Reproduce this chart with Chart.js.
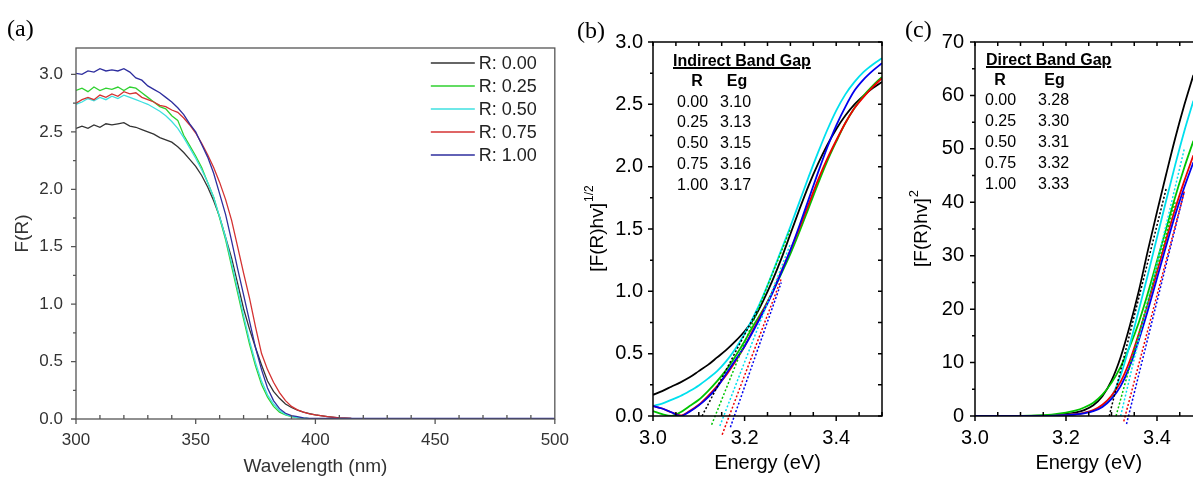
<!DOCTYPE html>
<html><head><meta charset="utf-8"><title>Kubelka-Munk and band gap plots</title>
<script src="https://cdn.jsdelivr.net/npm/chart.js@4.4.1/dist/chart.umd.min.js"></script>
<style>
html,body{margin:0;padding:0;background:#fff;overflow:hidden;width:1193px;height:478px;position:relative;}
canvas{position:absolute;top:0;}
.tag{position:absolute;font-family:"Liberation Serif","Times New Roman",serif;font-size:24px;line-height:26px;color:#000;}
.ins{position:absolute;font-family:"Liberation Sans",Arial,sans-serif;font-size:16px;line-height:18px;color:#000;white-space:nowrap;}
.ins.b{font-weight:bold;}
.ins.u{text-decoration:underline;text-decoration-thickness:1.5px;}
.ins.c{transform:translateX(-50%);}
</style></head>
<body>
<canvas id="chartA" width="580" height="478" style="left:0px"></canvas>
<canvas id="chartB" width="315" height="478" style="left:580px"></canvas>
<canvas id="chartC" width="320" height="478" style="left:895px"></canvas>
<div class="tag" style="left:7px;top:15px">(a)</div>
<div class="tag" style="left:577px;top:17px">(b)</div>
<div class="tag" style="left:905px;top:16px">(c)</div>
<script>
// ---------------- data ----------------
const R_LABELS = ['0.00', '0.25', '0.50', '0.75', '1.00'];
const INDIRECT_EG = ['3.10', '3.13', '3.15', '3.16', '3.17'];
const DIRECT_EG = ['3.28', '3.30', '3.31', '3.32', '3.33'];

// (a) F(R) vs wavelength (nm)
const WAVELENGTH = [300,302.5,305,307.5,310,312.5,315,317.5,320,322.5,325,327.5,330,332.5,335,337.5,340,342.5,345,347.5,
  350,352.5,355,357.5,360,362.5,365,367.5,370,372.5,375,377.5,380,382.5,385,387.5,390,392.5,395,397.5,400,
  405,410,415,420,425,430,435,440,445,450,455,460,465,470,475,480,485,490,495,500];
const FR_R000 = [2.53,2.55,2.53,2.56,2.54,2.57,2.56,2.57,2.58,2.55,2.54,2.52,2.50,2.48,2.45,2.43,2.41,2.37,2.32,2.26,
  2.20,2.12,2.02,1.90,1.76,1.58,1.40,1.18,0.96,0.78,0.62,0.47,0.33,0.24,0.18,0.13,0.10,0.078,0.06,0.047,0.036,
  0.02,0.01,0.005,0.003,0.002,0.002,0.002,0.002,0.002,0.002,0.002,0.002,0.002,0.002,0.002,0.002,0.002,0.002,0.002,0.002];
const FR_R025 = [2.86,2.88,2.85,2.89,2.86,2.88,2.87,2.89,2.86,2.89,2.88,2.84,2.80,2.76,2.72,2.70,2.64,2.60,2.47,2.38,
  2.29,2.19,2.06,1.93,1.75,1.56,1.33,1.10,0.87,0.65,0.46,0.30,0.19,0.11,0.06,0.035,0.02,0.012,0.007,0.004,0.003,
  0.003,0.003,0.003,0.003,0.003,0.003,0.003,0.003,0.003,0.003,0.003,0.003,0.003,0.003,0.003,0.003,0.003,0.003,0.003,0.003];
const FR_R050 = [2.74,2.76,2.79,2.77,2.80,2.78,2.81,2.79,2.82,2.80,2.78,2.76,2.74,2.71,2.68,2.64,2.59,2.53,2.45,2.36,
  2.27,2.17,2.06,1.93,1.76,1.58,1.36,1.13,0.90,0.68,0.49,0.33,0.21,0.13,0.075,0.04,0.022,0.012,0.007,0.004,0.003,
  0.003,0.003,0.003,0.003,0.003,0.003,0.003,0.003,0.003,0.003,0.003,0.003,0.003,0.003,0.003,0.003,0.003,0.003,0.003,0.003];
const FR_R075 = [2.75,2.78,2.80,2.78,2.82,2.80,2.83,2.81,2.85,2.83,2.84,2.80,2.78,2.76,2.73,2.72,2.69,2.67,2.62,2.56,
  2.49,2.40,2.30,2.19,2.06,1.91,1.73,1.50,1.27,1.05,0.80,0.57,0.43,0.32,0.23,0.16,0.11,0.08,0.06,0.045,0.035,
  0.02,0.01,0.005,0.003,0.002,0.002,0.002,0.002,0.002,0.002,0.002,0.002,0.002,0.002,0.002,0.002,0.002,0.002,0.002,0.002];
const FR_R100 = [3.01,3.00,3.03,3.02,3.05,3.03,3.04,3.03,3.05,3.02,2.97,2.95,2.90,2.87,2.84,2.80,2.76,2.71,2.65,2.57,
  2.50,2.39,2.28,2.14,1.96,1.78,1.55,1.31,1.08,0.85,0.62,0.43,0.27,0.16,0.09,0.05,0.03,0.02,0.01,0.006,0.005,
  0.005,0.005,0.005,0.005,0.005,0.005,0.005,0.005,0.005,0.005,0.005,0.005,0.005,0.005,0.005,0.005,0.005,0.005,0.005,0.005];

// (b) [F(R)hv]^1/2 vs energy (eV)
const ENERGY_B = [3.00,3.02,3.04,3.06,3.08,3.10,3.12,3.14,3.16,3.18,3.20,3.22,3.24,3.26,3.28,3.30,3.32,3.34,3.36,3.38,3.40,3.42,3.44,3.46,3.48,3.50];
const IND_R000 = [0.17,0.20,0.235,0.27,0.31,0.36,0.41,0.47,0.53,0.60,0.68,0.78,0.92,1.08,1.26,1.46,1.66,1.85,2.02,2.17,2.30,2.41,2.50,2.57,2.63,2.68];
const IND_R025 = [0.04,0.015,0.0,0.03,0.08,0.13,0.20,0.28,0.37,0.48,0.60,0.73,0.85,0.99,1.14,1.30,1.48,1.67,1.86,2.04,2.20,2.35,2.47,2.57,2.65,2.72];
const IND_R050 = [0.08,0.10,0.13,0.16,0.20,0.245,0.30,0.36,0.44,0.54,0.66,0.80,0.96,1.14,1.33,1.52,1.72,1.92,2.11,2.29,2.45,2.58,2.68,2.76,2.82,2.87];
const IND_R075 = [0.08,0.06,0.03,0.005,0.04,0.09,0.16,0.24,0.33,0.44,0.56,0.70,0.84,0.99,1.16,1.33,1.51,1.70,1.89,2.06,2.21,2.35,2.47,2.56,2.64,2.71];
const IND_R100 = [0.08,0.06,0.03,0.0,0.035,0.085,0.15,0.23,0.34,0.45,0.56,0.69,0.83,0.98,1.15,1.33,1.53,1.74,1.95,2.15,2.33,2.48,2.61,2.70,2.77,2.83];
// linear-fit (tangent) lines, [start, end]
const IND_FIT_X = [[3.107,3.228],[3.128,3.30],[3.146,3.30],[3.151,3.28],[3.169,3.28]];
const IND_FIT_Y = [[0.0,0.85],[-0.07,1.50],[-0.08,1.38],[-0.15,1.10],[-0.09,1.07]];

// (c) [F(R)hv]^2 vs energy (eV)
const ENERGY_C = [3.00,3.02,3.04,3.06,3.08,3.10,3.12,3.14,3.16,3.18,3.20,3.22,3.24,3.26,3.28,3.30,3.32,3.34,3.36,3.38,3.40,3.42,3.44,3.46,3.48];
const DIR_R000 = [0,0,0,0,0,0.01,0.03,0.06,0.12,0.22,0.38,0.62,1.1,2.0,3.7,6.6,11.0,16.8,23.4,31.0,38.2,45.2,52.0,58.2,63.8];
const DIR_R025 = [0,0,0,0,0,0.02,0.05,0.1,0.2,0.4,0.65,1.0,1.6,2.5,4.0,6.2,9.2,13.0,17.5,23.0,29.0,35.0,41.0,46.5,51.5];
const DIR_R050 = [0,0,0,0,0,0,0,0,0.03,0.08,0.18,0.33,0.6,1.0,1.9,3.6,7.6,13.3,19.8,26.5,33.4,40.3,47.0,53.3,59.0];
const DIR_R075 = [0,0,0,0,0,0,0,0,0.03,0.08,0.18,0.33,0.6,1.1,2.1,3.8,6.4,10.3,15.4,21.0,27.0,33.0,38.8,44.0,48.8];
const DIR_R100 = [0,0,0,0,0,0,0,0,0.02,0.06,0.14,0.28,0.5,0.9,1.7,3.2,5.6,9.3,14.2,19.8,25.8,31.8,37.6,42.8,47.5];
const DIR_FIT_X = [[3.295,3.42],[3.31,3.44],[3.32,3.46],[3.327,3.46],[3.333,3.46]];
const DIR_FIT_Y = [[0,42.5],[0,40],[0,50],[-1,42],[-1.5,42]];

// ---------------- styling ----------------
const FONT = '"Liberation Sans", Arial, Helvetica, sans-serif';
Chart.defaults.font.family = FONT;
const COLORS_A = ['#333333', '#2fd12f', '#3fe0e0', '#d43232', '#2e2e9e'];
const COLORS_BC = ['#000000', '#00c400', '#00e0ee', '#ee0000', '#0000ee'];
const DRAW_ORDER = [5, 4, 3, 2, 1]; // blue on top

const pts = (xs, ys) => xs.map((x, i) => ({ x: x, y: ys[i] }));

// frame + ticks drawn through the scales
const frameTicks = {
  id: 'frameTicks',
  afterDatasetsDraw(chart, args, o) {
    const ctx = chart.ctx, a = chart.chartArea, xs = chart.scales.x, ys = chart.scales.y;
    const list = (min, max, step) => { const out = []; const k0 = Math.ceil(min / step - 1e-6), k1 = Math.floor(max / step + 1e-6); for (let k = k0; k <= k1; k++) out.push(k * step); return out; };
    const isMul = (v, s) => Math.abs(v / s - Math.round(v / s)) < 1e-6;
    ctx.save();
    ctx.strokeStyle = o.color; ctx.lineWidth = o.lineWidth;
    ctx.strokeRect(a.left, a.top, a.right - a.left, a.bottom - a.top);
    ctx.beginPath();
    list(xs.min, xs.max, o.x.minor).forEach(v => {
      const p = xs.getPixelForValue(v);
      if (isMul(v, o.x.major)) { ctx.moveTo(p, a.bottom); ctx.lineTo(p, a.bottom + o.x.majorLen); }
      else { ctx.moveTo(p, a.bottom); ctx.lineTo(p, a.bottom - o.x.minorLen); }
      if (o.mirror) { ctx.moveTo(p, a.top); ctx.lineTo(p, a.top + o.mirrorLen); }
    });
    list(ys.min, ys.max, o.y.minor).forEach(v => {
      const p = ys.getPixelForValue(v);
      const len = isMul(v, o.y.major) ? o.y.majorLen : o.y.minorLen;
      ctx.moveTo(a.left, p); ctx.lineTo(a.left - len, p);
      if (o.mirror) { ctx.moveTo(a.right, p); ctx.lineTo(a.right - o.mirrorLen, p); }
    });
    ctx.stroke();
    ctx.restore();
  }
};

// legend inside panel (a)
const insetLegend = {
  id: 'insetLegend',
  afterDraw(chart, args, o) {
    if (!o.show) return;
    const ctx = chart.ctx, a = chart.chartArea;
    ctx.save();
    ctx.font = o.size + 'px ' + FONT; ctx.textBaseline = 'middle'; ctx.fillStyle = o.color;
    chart.data.datasets.filter(d => !d.isFit).forEach((d, i) => {
      const y = a.top + o.top + i * o.gap;
      ctx.strokeStyle = d.borderColor; ctx.lineWidth = 1.4;
      ctx.beginPath(); ctx.moveTo(a.right - o.lineStart, y); ctx.lineTo(a.right - o.lineEnd, y); ctx.stroke();
      ctx.fillText(d.label, a.right - o.textX, y + 1);
    });
    ctx.restore();
  }
};

// rotated y title with superscript
const yTitle = {
  id: 'yTitle',
  afterDraw(chart, args, o) {
    if (!o.show) return;
    const ctx = chart.ctx, a = chart.chartArea;
    const cy = (a.top + a.bottom) / 2;
    ctx.save();
    ctx.fillStyle = '#000';
    ctx.font = o.size + 'px ' + FONT;
    const w1 = ctx.measureText(o.main).width;
    ctx.font = o.supSize + 'px ' + FONT;
    const w2 = ctx.measureText(o.sup).width;
    ctx.translate(o.x, cy); ctx.rotate(-Math.PI / 2);
    ctx.textBaseline = 'middle'; ctx.textAlign = 'left';
    const x0 = -(w1 + w2) / 2;
    ctx.font = o.size + 'px ' + FONT;
    ctx.fillText(o.main, x0, 0);
    ctx.font = o.supSize + 'px ' + FONT;
    ctx.fillText(o.sup, x0 + w1 + 1, -o.raise);
    ctx.restore();
  }
};

function makePanel(id, cfg) {
  return new Chart(document.getElementById(id), {
    type: 'line',
    data: { datasets: cfg.datasets },
    options: {
      responsive: false, animation: false, devicePixelRatio: 1, events: [],
      layout: { padding: cfg.padding },
      plugins: {
        legend: { display: false }, tooltip: { enabled: false },
        frameTicks: cfg.frame, insetLegend: cfg.legend || { show: false }, yTitle: cfg.yTitle || { show: false }
      },
      scales: {
        x: {
          type: 'linear', min: cfg.x.min, max: cfg.x.max,
          afterFit: s => { s.height = cfg.x.height; },
          grid: { display: false, drawTicks: false }, border: { display: false },
          ticks: { stepSize: cfg.x.step, includeBounds: false, autoSkip: false, maxRotation: 0, padding: cfg.x.pad,
                   color: cfg.color, font: { size: cfg.tickSize }, callback: cfg.x.fmt },
          title: { display: true, text: cfg.x.title, color: cfg.color, font: { size: cfg.titleSize }, padding: { top: 0, bottom: cfg.x.titlePad } }
        },
        y: {
          type: 'linear', min: cfg.y.min, max: cfg.y.max,
          afterFit: s => { s.width = cfg.y.width; },
          grid: { display: false, drawTicks: false }, border: { display: false },
          ticks: { stepSize: cfg.y.step, includeBounds: false, autoSkip: false, padding: cfg.y.pad,
                   color: cfg.color, font: { size: cfg.tickSize }, callback: cfg.y.fmt },
          title: { display: !!cfg.y.title, text: cfg.y.title || '', color: cfg.color, font: { size: cfg.titleSize }, padding: { top: cfg.y.titlePad || 0, bottom: 0 } }
        }
      }
    },
    plugins: [frameTicks, insetLegend, yTitle]
  });
}

function seriesSets(xArr, yArrs, colors, width, smooth) {
  return yArrs.map((ys, i) => ({
    label: 'R: ' + R_LABELS[i], data: pts(xArr, ys), borderColor: colors[i], backgroundColor: colors[i],
    borderWidth: width, pointRadius: 0, fill: false, order: DRAW_ORDER[i],
    tension: 0, cubicInterpolationMode: smooth ? 'monotone' : 'default'
  }));
}
function fitSets(fx, fy, colors) {
  return fx.map((xs, i) => ({
    label: 'fit ' + R_LABELS[i], isFit: true, data: pts(xs, fy[i]), borderColor: colors[i],
    borderWidth: 1.5, borderDash: [2, 2], pointRadius: 0, fill: false, order: 0, clip: false
  }));
}

// ---------------- panel (a) ----------------
makePanel('chartA', {
  datasets: seriesSets(WAVELENGTH, [FR_R000, FR_R025, FR_R050, FR_R075, FR_R100], COLORS_A, 1.3, false),
  padding: { top: 48, right: 22, left: 0, bottom: 0 },
  color: '#333', tickSize: 17, titleSize: 19,
  x: { min: 300, max: 500, step: 50, height: 59, pad: 11, title: 'Wavelength (nm)', titlePad: 0, fmt: v => String(v) },
  y: { min: 0, max: 3.23, step: 0.5, width: 76, pad: 13, title: 'F(R)', titlePad: 11, fmt: v => v.toFixed(1) },
  frame: { color: '#555', lineWidth: 1.3, mirror: false, mirrorLen: 0,
           x: { major: 50, minor: 10, majorLen: 5, minorLen: 4 }, y: { major: 0.5, minor: 0.25, majorLen: 5, minorLen: 3 } },
  legend: { show: true, size: 18, color: '#222', top: 15, gap: 23, lineStart: 124, lineEnd: 80, textX: 76 }
});

// ---------------- panel (b) ----------------
makePanel('chartB', {
  datasets: seriesSets(ENERGY_B, [IND_R000, IND_R025, IND_R050, IND_R075, IND_R100], COLORS_BC, 1.8, true)
    .concat(fitSets(IND_FIT_X, IND_FIT_Y, COLORS_BC)),
  padding: { top: 42, right: 13, left: 0, bottom: 0 },
  color: '#000', tickSize: 20, titleSize: 20,
  x: { min: 3.0, max: 3.5, step: 0.2, height: 62, pad: 10, title: 'Energy (eV)', titlePad: 3, fmt: v => v.toFixed(1) },
  y: { min: 0, max: 3.0, step: 0.5, width: 73, pad: 10, fmt: v => v.toFixed(1) },
  frame: { color: '#000', lineWidth: 1.5, mirror: true, mirrorLen: 4,
           x: { major: 0.2, minor: 0.05, majorLen: 5, minorLen: 4 }, y: { major: 0.5, minor: 0.25, majorLen: 5, minorLen: 3 } },
  yTitle: { show: true, main: '[F(R)hv]', sup: '1/2', x: 18, size: 19, supSize: 12, raise: 8 }
});

// ---------------- panel (c) ----------------
makePanel('chartC', {
  datasets: seriesSets(ENERGY_C, [DIR_R000, DIR_R025, DIR_R050, DIR_R075, DIR_R100], COLORS_BC, 1.8, true)
    .concat(fitSets(DIR_FIT_X, DIR_FIT_Y, COLORS_BC)),
  padding: { top: 42, right: 12.5, left: 0, bottom: 0 },
  color: '#000', tickSize: 20, titleSize: 20,
  x: { min: 3.0, max: 3.5, step: 0.2, height: 62, pad: 10, title: 'Energy (eV)', titlePad: 3, fmt: v => v.toFixed(1) },
  y: { min: 0, max: 70, step: 10, width: 80, pad: 11, fmt: v => String(v) },
  frame: { color: '#000', lineWidth: 1.5, mirror: true, mirrorLen: 4,
           x: { major: 0.2, minor: 0.05, majorLen: 5, minorLen: 4 }, y: { major: 10, minor: 5, majorLen: 5, minorLen: 3 } },
  yTitle: { show: true, main: '[F(R)hv]', sup: '2', x: 27, size: 19, supSize: 13, raise: 8 }
});

// ---------------- inset tables ----------------
function addText(txt, left, cy, cls) {
  const d = document.createElement('div');
  d.className = 'ins ' + (cls || '');
  d.textContent = txt;
  d.style.left = left + 'px';
  d.style.top = (cy - 9) + 'px';
  document.body.appendChild(d);
}
function inset(t) {
  addText(t.title, t.titleLeft, t.titleY, 'b u');
  addText('R', t.rHeadX, t.headY, 'b c');
  addText('Eg', t.egHeadX, t.headY, 'b c');
  R_LABELS.forEach((r, i) => {
    addText(r, t.rLeft, t.rowY + i * t.rowGap);
    addText(t.eg[i], t.egLeft, t.rowY + i * t.rowGap);
  });
}
inset({ title: 'Indirect Band Gap', titleLeft: 673, titleY: 61, rHeadX: 697, egHeadX: 737, headY: 81,
        rLeft: 677, egLeft: 720, rowY: 101.5, rowGap: 20.8, eg: INDIRECT_EG });
inset({ title: 'Direct Band Gap', titleLeft: 986, titleY: 59.5, rHeadX: 1000, egHeadX: 1054.5, headY: 80,
        rLeft: 985, egLeft: 1038, rowY: 100, rowGap: 21, eg: DIRECT_EG });
</script>
</body></html>
